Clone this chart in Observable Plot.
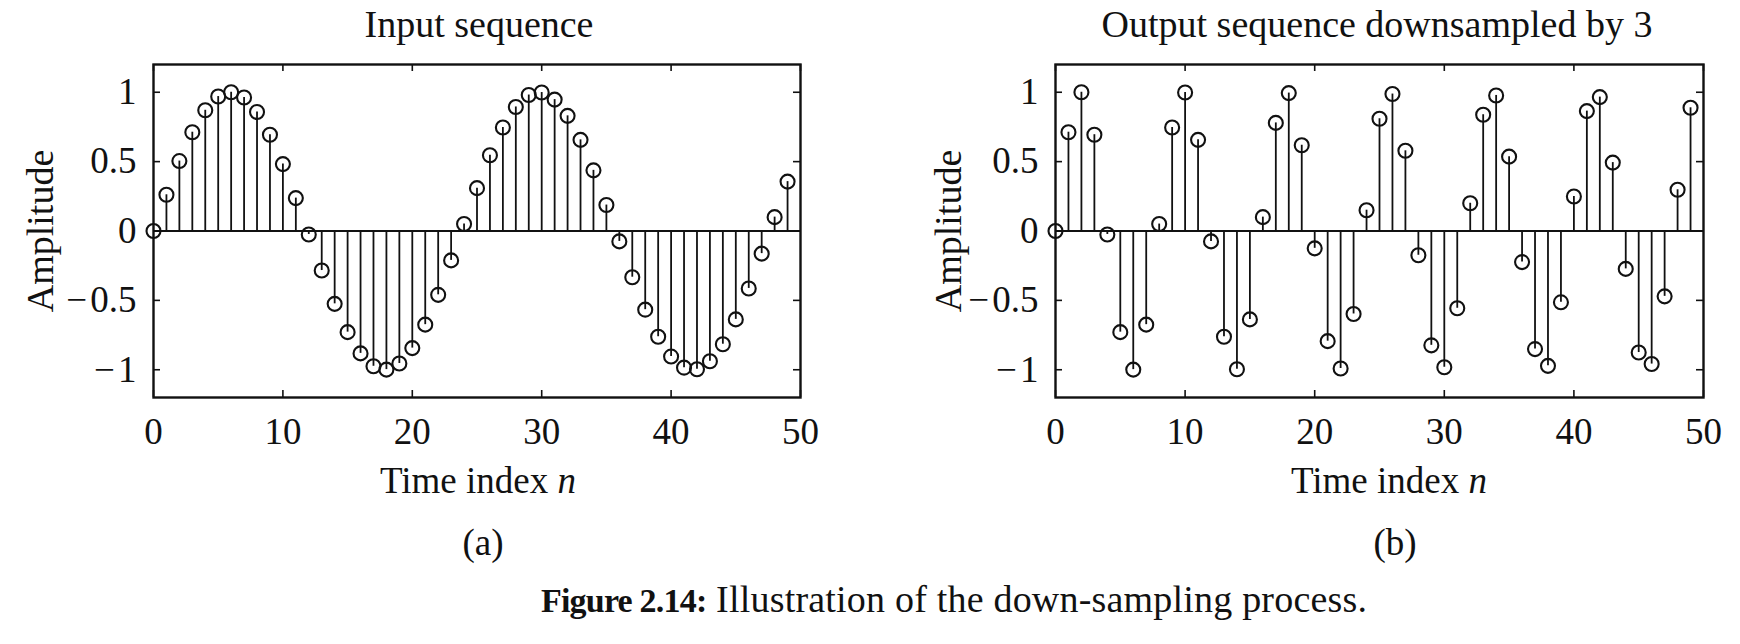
<!DOCTYPE html>
<html>
<head>
<meta charset="utf-8">
<script src="https://cdn.jsdelivr.net/npm/d3@7"></script>
<script src="https://cdn.jsdelivr.net/npm/@observablehq/plot@0.6"></script>
<style>
  html, body { margin: 0; padding: 0; background: #fff; }
  #root { position: relative; width: 1740px; height: 644px; overflow: hidden;
          font-family: "Liberation Serif", "Times New Roman", "DejaVu Serif", serif; color: #111; }
  .panel { position: absolute; top: 0; }
  .txt { position: absolute; white-space: nowrap; line-height: 1; }
  .c { transform: translateX(-50%); }
  .rot { transform: translate(-50%, -50%) rotate(-90deg); }
</style>
</head>
<body>
<div id="root"></div>
<script>
// ---------------- data ----------------
const timeIndex = [0,1,2,3,4,5,6,7,8,9,10,11,12,13,14,15,16,17,18,19,20,21,22,23,24,
                   25,26,27,28,29,30,31,32,33,34,35,36,37,38,39,40,41,42,43,44,45,46,47,48,49];

const inputAmplitude = [0.000, 0.261, 0.504, 0.712, 0.870, 0.969, 1.000, 0.962, 0.858, 0.694,
                        0.482, 0.237, -0.025, -0.285, -0.525, -0.729, -0.882, -0.975, -0.999, -0.955,
                        -0.844, -0.675, -0.460, -0.212, 0.050, 0.309, 0.546, 0.746, 0.894, 0.980,
                        0.998, 0.947, 0.830, 0.657, 0.437, 0.187, -0.075, -0.333, -0.567, -0.762,
                        -0.905, -0.985, -0.996, -0.939, -0.816, -0.637, -0.414, -0.163, 0.100, 0.356];

const outputAmplitude = [0.000, 0.712, 1.000, 0.694, -0.025, -0.729, -0.999, -0.675, 0.050, 0.746,
                         0.998, 0.657, -0.075, -0.762, -0.996, -0.637, 0.100, 0.779, 0.994, 0.618,
                         -0.125, -0.794, -0.991, -0.598, 0.150, 0.809, 0.987, 0.578, -0.175, -0.824,
                         -0.982, -0.557, 0.200, 0.838, 0.977, 0.536, -0.224, -0.851, -0.972, -0.514,
                         0.249, 0.864, 0.965, 0.493, -0.273, -0.876, -0.959, -0.471, 0.297, 0.888];

const xTicks = [0, 10, 20, 30, 40, 50];
const xTickLabels = ["0", "10", "20", "30", "40", "50"];
const yTicks = [-1, -0.5, 0, 0.5, 1];
const yTickLabels = ["\u2212\u200A1", "\u2212\u200A0.5", "0", "0.5", "1"];

const titles = ["Input sequence", "Output sequence downsampled by 3"];
const panelTags = ["(a)", "(b)"];
const yLabel = "Amplitude";
const xLabelText = "Time index ";
const xLabelVar = "n";
const captionBold = "Figure 2.14:";
const captionRest = " Illustration of the down-sampling process.";

// ---------------- layout ----------------
const INK = "#111";
const FONT = '"Liberation Serif", "Times New Roman", serif';
const H = 470, MT = 64, MB = H - 397;
const panels = [
  { left: 0,   width: 870, ml: 153, mr: 870 - 800, amp: inputAmplitude,  ylabX: 40,
    titleX: 479, xlabX: 478, tagX: 483 },
  { left: 870, width: 870, ml: 1055 - 870, mr: 870 - (1703 - 870), amp: outputAmplitude, ylabX: 948,
    titleX: 1377, xlabX: 1389, tagX: 1395 }
];

const root = document.getElementById("root");

function addText(html, cls, x, y, size, extra = "") {
  const d = document.createElement("div");
  d.className = "txt " + cls;
  d.style.left = x + "px";
  d.style.top = y + "px";
  d.style.fontSize = size + "px";
  d.style.cssText += extra;
  d.innerHTML = html;
  root.appendChild(d);
  return d;
}

panels.forEach((p, k) => {
  const data = timeIndex.map((n, i) => ({ n, v: p.amp[i] }));
  const innerH = H - MT - MB;
  const innerW = p.width - p.ml - p.mr;
  const chart = Plot.plot({
    width: p.width,
    height: H,
    marginTop: MT,
    marginBottom: MB,
    marginLeft: p.ml,
    marginRight: p.mr,
    x: { domain: [0, 50] },
    y: { domain: [-1.2, 1.2] },
    style: { fontFamily: FONT, fontSize: "37px", color: INK, background: "transparent", overflow: "visible" },
    marks: [
      Plot.ruleY([0], { stroke: INK, strokeWidth: 2.2 }),
      Plot.ruleX(data, { x: "n", y1: 0, y2: "v", stroke: INK, strokeWidth: 1.8 }),
      Plot.dot(data, { x: "n", y: "v", r: 7, stroke: INK, strokeWidth: 2.1, fill: "none" }),
      Plot.tickX(xTicks, { x: d => d, insetTop: innerH - 7, stroke: INK, strokeWidth: 1.6 }),
      Plot.tickX(xTicks, { x: d => d, insetBottom: innerH - 7, stroke: INK, strokeWidth: 1.6 }),
      Plot.tickY(yTicks, { y: d => d, insetRight: innerW - 7, stroke: INK, strokeWidth: 1.6 }),
      Plot.tickY(yTicks, { y: d => d, insetLeft: innerW - 7, stroke: INK, strokeWidth: 1.6 }),
      Plot.frame({ stroke: INK, strokeWidth: 2.4 }),
      Plot.axisX({ ticks: xTicks, tickSize: 0, tickPadding: 20, label: null,
                   tickFormat: d => xTickLabels[xTicks.indexOf(d)], fill: INK }),
      Plot.axisY({ ticks: yTicks, tickSize: 0, tickPadding: 17, label: null,
                   tickFormat: d => yTickLabels[yTicks.indexOf(d)], fill: INK })
    ]
  });
  const wrap = document.createElement("div");
  wrap.className = "panel";
  wrap.style.left = p.left + "px";
  wrap.appendChild(chart);
  root.appendChild(wrap);

  addText(titles[k], "c", p.titleX, 5, 38);
  addText(yLabel, "rot", p.ylabX, MT + innerH / 2, 38);
  addText(xLabelText + "<i>" + xLabelVar + "</i>", "c", p.xlabX, 462, 37);
  addText(panelTags[k], "c", p.tagX, 524, 37);
});

addText('<b style="letter-spacing:-0.8px;font-size:34px">' + captionBold + '</b>' +
        '<span style="letter-spacing:0.2px">' + captionRest + '</span>', "", 541, 580, 38);
</script>
</body>
</html>
